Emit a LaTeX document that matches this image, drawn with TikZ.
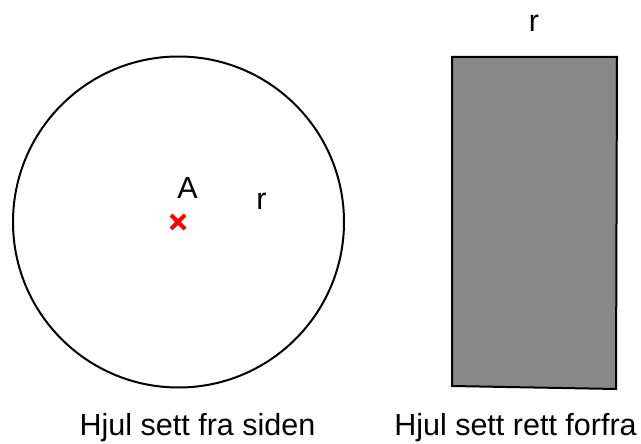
\documentclass[tikz,border=0pt]{standalone}
\usepackage{fontspec}
\setmainfont{Liberation Sans}
\begin{document}
\begin{tikzpicture}[x=1pt,y=-1pt,
  lbl/.style={font=\fontsize{30.5}{36}\selectfont, inner sep=0pt, anchor=base},
  outline/.style={draw=black, line width=2pt}]
\useasboundingbox (0,0) rectangle (641,444);
% wheel seen from the side
\node[outline, circle, minimum size=331pt, inner sep=0pt] (wheel) at (178.5,222) {};
\coordinate (center) at (178,222);
\draw[red, line width=4pt] ([shift={(-7,-7)}]center) -- ([shift={(7,7)}]center);
\draw[red, line width=4pt] ([shift={(-7,7)}]center) -- ([shift={(7,-7)}]center);
\node[lbl] (labA) at (187.5,198) {A};
\node[lbl] (labr1) at (261.5,210) {r};
% wheel seen from the front
\draw[outline, fill={rgb,255:red,136;green,136;blue,136}] (452,57) -- (617,57) -- (616,389) -- (452,386) -- cycle;
\node[lbl] (labr2) at (534,32) {r};
% captions
\node[lbl] (cap1) at (197.5,435) {Hjul sett fra siden};
\node[lbl] (cap2) at (515.5,435) {Hjul sett rett forfra};
\end{tikzpicture}
\end{document}
